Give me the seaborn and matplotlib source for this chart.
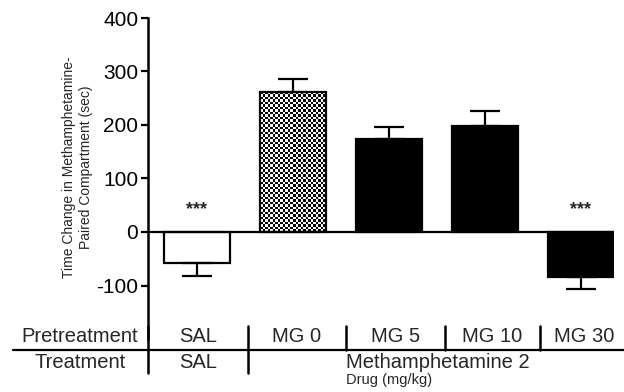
import numpy as np
import pandas as pd
import matplotlib
matplotlib.use("Agg")
import matplotlib.pyplot as plt
import matplotlib.transforms as mtransforms
import seaborn as sns

# ---- data ----
pretreatment = ["SAL", "MG 0", "MG 5", "MG 10", "MG 30"]
treatment_labels = ["SAL", "Methamphetamine 2"]
means = [-58, 261, 173, 199, -84]
sem = [24, 25, 23, 28, 23]
bar_colors = ["white", "white", "black", "black", "black"]
sig_labels = ["***", "", "", "", "***"]
yticks = [-100, 0, 100, 200, 300, 400]

sns.set_style("ticks")
plt.rcParams["font.family"] = ["Liberation Sans", "DejaVu Sans"]
plt.rcParams["axes.unicode_minus"] = False

W, H = 624, 392
fig = plt.figure(figsize=(W / 100, H / 100), dpi=100)
# axes box in pixels: x 148..614, y 18..339
ax = fig.add_axes([148 / W, (H - 339) / H, (614 - 148) / W, (339 - 18) / H])

df = pd.DataFrame({"group": pretreatment, "value": means})
sns.barplot(data=df, x="group", y="value", hue="group", order=pretreatment,
            palette=bar_colors, legend=False, width=0.68,
            edgecolor="black", linewidth=1.6, errorbar=None, ax=ax)

xpos = np.arange(len(pretreatment))
lower = [s if m < 0 else 0 for m, s in zip(means, sem)]
upper = [s if m >= 0 else 0 for m, s in zip(means, sem)]
ax.errorbar(xpos, means, yerr=[lower, upper], fmt="none", ecolor="black",
            elinewidth=1.6, capsize=11, capthick=1.6, zorder=3)

# checkerboard fill for MG 0 bar
p = ax.patches[1]
bx, by, bw, bh = p.get_x(), p.get_y(), p.get_width(), p.get_height()
board = (np.indices((56, 26)).sum(axis=0) % 2).astype(float)
im = ax.imshow(board, extent=[bx, bx + bw, by, by + bh], cmap="gray",
               interpolation="nearest", aspect="auto", zorder=0.5)
im.set_clip_path(p)
p.set_facecolor("none")
p.set_zorder(2)

ax.axhline(0, color="black", lw=1.6, zorder=4)

ax.set_xlim(-0.51, 4.345)
ax.set_ylim(-200, 400)
ax.set_yticks(yticks)
ax.tick_params(axis="y", labelsize=15, length=5, width=1.6, pad=2, colors="black")
ax.tick_params(axis="x", length=0, labelbottom=False)
ax.set_xlabel("")
for s in ["top", "right", "bottom"]:
    ax.spines[s].set_visible(False)
ax.spines["left"].set_linewidth(1.8)
ax.spines["left"].set_color("black")
ax.set_ylabel("Time Change in Methamphetamine-\nPaired Compartment (sec)",
              fontsize=10, linespacing=1.3)
ax.yaxis.set_label_coords(-0.118, 0.535)

for i, lab in enumerate(sig_labels):
    if lab:
        ax.text(xpos[i], 33, lab, ha="center", va="baseline", fontsize=13,
                fontweight="bold")

# ---- table below axes ----
def fy(px):
    return 1 - px / H

tr = mtransforms.blended_transform_factory(ax.transData, fig.transFigure)
bounds = [-0.51, 0.53, 1.55, 2.58, 3.57, 4.5]

fig.add_artist(plt.Line2D([13 / W, 1.0], [fy(350), fy(350)], color="black",
                          lw=1.6, transform=fig.transFigure))
fig.add_artist(plt.Line2D([bounds[0], bounds[0]], [fy(326), fy(373)], color="black",
                          lw=1.8, transform=tr))
fig.add_artist(plt.Line2D([bounds[1], bounds[1]], [fy(326), fy(373)], color="black",
                          lw=1.8, transform=tr))
for b in bounds[2:5]:
    fig.add_artist(plt.Line2D([b, b], [fy(326), fy(350)], color="black",
                              lw=1.8, transform=tr))

fs = 14.5
fig.text(80 / W, fy(337), "Pretreatment", ha="center", va="center", fontsize=fs)
fig.text(80 / W, fy(363), "Treatment", ha="center", va="center", fontsize=fs)
for i, lab in enumerate(pretreatment):
    cx = (bounds[i] + bounds[i + 1]) / 2
    fig.text(cx, fy(337), lab, ha="center", va="center", fontsize=fs, transform=tr)
fig.text((bounds[0] + bounds[1]) / 2, fy(363), treatment_labels[0], ha="center",
         va="center", fontsize=fs, transform=tr)
fig.text(bounds[2], fy(363), treatment_labels[1], ha="left", va="center",
         fontsize=fs, transform=tr)
fig.text(bounds[2], fy(380), "Drug (mg/kg)", ha="left", va="center",
         fontsize=10.5, transform=tr)

fig.savefig("out.png", dpi=100)
